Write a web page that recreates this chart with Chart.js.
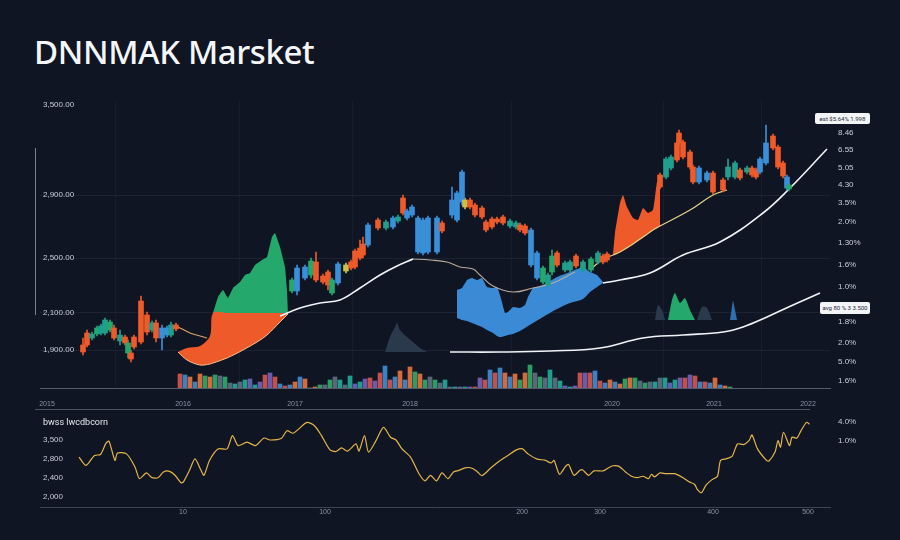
<!DOCTYPE html>
<html>
<head>
<meta charset="utf-8">
<title>DNNMAK Marsket</title>
<script src="https://cdn.jsdelivr.net/npm/chart.js@4.4.1/dist/chart.umd.min.js"></script>
<style>
  html, body { margin: 0; padding: 0; background: #0f1523; }
  body { width: 900px; height: 540px; position: relative; overflow: hidden; font-family: Roboto, "Noto Sans", sans-serif; }
  h1 { position: absolute; left: 34px; top: 35px; margin: 0; font-family: "Noto Sans", sans-serif; font-weight: 500; font-size: 33px; line-height: 33px; color: #f4f6fa; letter-spacing: -0.4px; }
  canvas { position: absolute; left: 0; }
  #mainChart { top: 85px; }
  #subChart { top: 405px; }
  .rule { position: absolute; background: #4a5263; }
  .tag { position: absolute; background: #f3f4f6; color: #1f2937; font-size: 6px; border-radius: 2px; text-align: center; }
  .panel-title { position: absolute; left: 43px; top: 417px; color: #e5e7eb; font-size: 9px; }
</style>
</head>
<body>
<h1>DNNMAK Marsket</h1>
<div class="rule" style="left:35px; top:148px; width:1px; height:167px; background:#7a8291;"></div>
<div class="rule" style="left:35px; top:409px; width:775px; height:1px;"></div>
<canvas id="mainChart" width="900" height="330"></canvas>
<canvas id="subChart" width="900" height="120"></canvas>
<div class="panel-title">bwss lwcdbcorn</div>
<div class="tag" style="left:815px; top:113px; width:55px; height:11px; line-height:11px;">est $5.64% 1.998</div>
<div class="tag" style="left:820px; top:302px; width:50px; height:12px; line-height:12px;">avg 80 % 3 3.500</div>

<script>
// ---- axis ticks ----
const leftTickValues = [141.5, 96.5, 65, 37.5, 19];
const leftTickLabels = ["3,500.00", "2,900.00", "2,500.00", "2,100.00", "1,900.00"];
const rightTickValues = [127.5, 119, 110, 101.5, 92.5, 83, 72.5, 61.5, 50.5, 33, 22.5, 13, 3.5];
const rightTickLabels = ["8.46", "6.55", "5.05", "4.30", "3.5%", "2.0%", "1.30%", "1.6%", "1.0%", "1.8%", "2.0%", "5.0%", "1.6%"];
const topXTicks = [1.4, 28.6, 51, 74, 114.4, 134.8, 153.6];
const topXLabels = ["2015", "2016", "2017", "2018", "2020", "2021", "2022"];

const subLeftValues = [34, 24.5, 14.5, 5];
const subLeftLabels = ["3,500", "2,800", "2,400", "2,000"];
const subRightValues = [43, 33.5];
const subRightLabels = ["4.0%", "1.0%"];
const subXTicks = [28.6, 57, 96.4, 112, 134.6, 153.6];
const subXLabels = ["10", "100", "200", "300", "400", "500"];

// ---- candles ----
const candleX = [8.6, 9.4, 10.4, 11.4, 12.2, 13, 14, 14.8, 16, 17, 17.6, 18.2, 18.8, 20.2, 21.4, 22.4, 23.2, 24.4, 25.4, 26.2, 27.2,
  50.4, 51.4, 53, 54.2, 55.2, 56.6, 57.6, 58.4, 59.6, 61.2, 62.2, 63, 64, 64.6, 65.6, 67.6, 69.2, 70.6, 71.6, 72.6, 73.4, 74.4, 75.6, 76.6, 77.6, 79.4, 80.4,
  82.4, 83.4, 84.4, 85, 86, 87, 88.4, 89.2, 90.4, 91.4, 92.6, 94, 95.2, 96, 97, 98.2, 99.4, 100.6, 101.6, 102.4, 103.4, 105, 106, 107.2, 108.6, 110.2, 111.6, 112.6, 113.4,
  124, 125.2, 126.2, 127.4, 127.8, 128.6, 130, 130.6, 131.8, 133.4, 134.6, 136.6, 137.6, 139, 140, 141.4, 142.4, 143.2, 144, 145.2, 146.6, 147.6, 148.6, 149.4, 149.8];
const bodyTop = [21.5, 27.5, 27, 30, 31, 34, 33, 30, 26.5, 25.5, 22.5, 17.5, 25.5, 43.5, 36.5, 32.5, 32.5, 30, 30, 31.5, 31.5,
  54, 60, 60.5, 63.5, 63, 56, 58, 54, 62, 61.5, 63, 68.5, 70, 72, 81.5, 84, 83, 85, 85.5, 95, 88.5, 90.5, 85, 84, 85, 85, 82.5,
  94, 97.5, 108, 94, 94, 91.5, 90, 83, 84.5, 84.5, 85.5, 83.5, 82.5, 81.5, 81, 79, 67.5, 60, 56.5, 66, 67.5, 62.5, 63, 66, 63, 64.5, 67.5, 66, 67,
  106.5, 114.5, 115.5, 122.5, 127.5, 123, 118, 110.5, 110, 107.5, 107.5, 104, 110.5, 112.5, 109, 110, 110, 109, 114.5, 122.5, 126, 120.5, 112.5, 105.5, 101.5];
const bodyBot = [18, 21.5, 25, 27, 27.5, 27.5, 29, 25, 23.5, 22.5, 17.5, 14.5, 20.5, 23, 28, 29, 25, 25, 26.5, 26.5, 29.5,
  48.5, 48.5, 55, 56.5, 54, 53, 51.5, 47.5, 52.5, 58.5, 60, 60.5, 65, 66.5, 71.5, 80, 80, 80.5, 83.5, 87.5, 85, 86.5, 68, 67.5, 68, 68, 78.5,
  86.5, 84, 93, 90.5, 90.5, 86.5, 85.5, 79, 80.5, 83, 82.5, 81, 80.5, 79, 77.5, 61.5, 55, 53, 51.5, 58, 61.5, 59, 59, 61, 59, 59, 63, 63, 64,
  100.5, 105.5, 110, 114, 122.5, 115.5, 110.5, 103, 103, 104, 98, 99, 105.5, 105.5, 105, 108, 106.5, 105.5, 108, 112.5, 120, 110.5, 106, 100, 99.5];
const wickTop = [25, 29, 28, 31, 32, 35, 34, 31.5, 29, 26.5, 24, 19, 26.5, 46, 38, 33.5, 34, 31.5, 31, 33, 32.5,
  55, 61.5, 61.5, 65, 68, 57, 59, 55, 63, 62.5, 64, 69.5, 74, 75.5, 82.5, 85, 84, 86, 86.5, 96.5, 89.5, 91.5, 86, 85, 86, 86, 83.5,
  100.5, 98.5, 109, 95, 95, 92.5, 91, 84, 85.5, 85.5, 86.5, 84.5, 83.5, 82.5, 82, 80, 68.5, 61, 57.5, 69, 68.5, 63.5, 64, 67, 64, 65.5, 68.5, 67, 68,
  107.5, 115.5, 116.5, 123.5, 129, 124, 119, 111.5, 111, 108.5, 108.5, 105, 114.5, 113.5, 110, 111, 111, 110, 115.5, 131.5, 127, 121.5, 113.5, 106.5, 102.5];
const wickBot = [16.5, 20.5, 24, 26, 26.5, 26.5, 28, 24, 21.5, 21.5, 15, 13, 19.5, 22, 26.5, 28, 23, 19, 25.5, 25.5, 28.5,
  47.5, 46.5, 54, 55, 53, 52, 49, 46.5, 51.5, 57.5, 59, 59.5, 64, 65, 70.5, 79, 79, 79.5, 82.5, 86.5, 84, 85.5, 67, 66.5, 67, 67, 77.5,
  85, 83, 91.5, 89.5, 89.5, 85.5, 84.5, 78, 79.5, 82, 81.5, 80, 79.5, 78, 76.5, 60.5, 54, 52, 50.5, 56.5, 60.5, 58, 58, 60, 58, 58, 62, 62, 63,
  99.5, 104.5, 109, 113, 121.5, 114.5, 109.5, 102, 102, 103, 97, 98, 104, 104.5, 104, 107, 105.5, 104.5, 107, 111.5, 119, 109.5, 105, 99, 98.5];
// o = orange, g = green, t = teal, b = blue, y = yellow
const candleKind = ("ootgttgoto gooootobbt o" + "gbbgooogb yoooobotbt obbbbbbobb byooooooot toobbgtgot totgtooo" +
  "tt ooooobboot totoobbooo bg").replace(/ /g, "").split("");

// ---- volume (starts at x = 28, one bar per step) ----
const volStart = 28;
const volume = [14, 13, 11, 6, 14, 12, 11, 13, 12, 11, 5, 4, 6, 8, 9, 3, 6, 13, 15, 11, 4, 2, 3, 6, 11, 9,
  0, 1, 3, 3, 8, 11, 8, 3, 12, 4, 6, 9,
  10, 7, 15, 22, 8, 11, 17, 8, 21, 16, 14, 8, 11, 8, 5, 8,
  1, 1, 1, 1, 1, 1,
  10, 8, 18, 15, 20, 15, 11, 14, 8, 15, 23, 15, 11, 10, 18, 10, 7,
  2, 1, 2,
  15, 15, 15, 17, 7, 5, 8, 6, 4,
  9, 10, 10, 7, 5, 6, 6, 10, 10, 5, 8, 10, 10, 13, 12, 6, 6, 5, 10, 3, 2, 1];

// ---- filled areas ----
const orangeLX = [27.6, 29.4, 32, 34, 34.6, 37.4, 40.6, 43.4, 45.4, 48, 49.6];
const orangeLTop = [18, 20, 21, 26, 37.5, 37.5, 37.5, 37.5, 37.5, 37.5, 37.5];
const orangeLBot = [18, 14, 11.5, 12, 12.5, 15, 19, 23, 26.5, 33, 37];

const greenX = [34.6, 35.6, 36.6, 37.6, 38.6, 40, 41, 42, 43, 44.4, 45.4, 46.4, 47, 48, 49, 49.4, 49.6];
const greenTop = [37.5, 45.5, 49, 45, 50, 53, 56.5, 57.5, 61.5, 64, 65.5, 75.5, 77.5, 70.5, 60.5, 49, 37.5];

const orangeRX = [114.6, 115, 116, 116.6, 117.4, 118.6, 119.6, 120.6, 121.6, 122.6, 123, 123.4, 124];
const orangeRTop = [66.5, 77.5, 92.5, 96.5, 90.5, 85, 84, 90, 87.5, 89, 95.5, 103, 104];
const orangeRBot = [66.5, 67, 68, 69, 70, 72, 73.5, 75.5, 77.5, 79, 79.5, 80, 81];

const blueX = [83.4, 84.4, 85.4, 86.4, 87.4, 88.4, 89.4, 90.6, 91.4, 92, 93, 93.6, 94.6, 96, 97, 97.6, 98.6, 100.6, 103.4, 106, 108.6, 110, 111.4, 112.6];
const blueTop = [49, 50, 54, 55, 54, 55, 50.5, 50, 50.5, 46.5, 37.5, 38, 40.5, 40, 41.5, 45.5, 50, 51.5, 55.5, 58, 60.5, 58, 56.5, 53];
const blueBot = [35, 34, 33.5, 32.5, 31.5, 30.5, 29, 27.5, 26, 25.5, 26, 26.5, 27, 28.5, 30, 31, 32.5, 35.5, 39.5, 42.5, 44.5, 48, 50.5, 52.5];

const hillMidX = [69, 70, 71, 71.4, 72, 73.4, 74.6, 76, 77.4];
const hillMidY = [18, 25.5, 30.5, 32.5, 29, 25.5, 23, 20, 18];
const hillAX = [123, 123.6, 124.4, 125];
const hillAY = [34, 41.5, 39, 34];
const hillGX = [125.6, 126.4, 127, 128, 129, 130, 131];
const hillGY = [34, 44, 47.5, 42.5, 45, 39, 34];
const hillBX = [131.4, 132.4, 133.4, 134.4];
const hillBY = [34, 40.5, 40, 34];
const spikeX = [138, 138.6, 139.4];
const spikeY = [34, 44, 34];

// ---- moving averages ----
const tanX = [26.4, 28, 30, 32, 33.4];
const tanY = [31.5, 30, 27.5, 26, 25];
const ma1X = [48, 52, 56, 60, 64, 68, 71.4, 74.6];
const ma1Y = [36, 40, 42.5, 44, 50, 56.5, 61, 64.5];
const ma1bX = [74.6, 78, 81.4, 84, 86.6, 88, 90.6, 94.6, 98.6, 102.6, 107];
const ma1bY = [64.5, 64, 63, 60.5, 59.5, 56.5, 51, 48, 50, 52.5, 58];
const ma1cX = [110, 112.6, 114.6, 116, 118.6, 120.6, 122.6, 124, 130, 134.6, 137.4];
const ma1cY = [59, 64.5, 66.5, 68, 72, 75.5, 79, 81, 89, 96.5, 99];
const ma2X = [82, 92, 102, 112, 120.6, 128.6, 136.6, 140.6, 145.4, 150.6, 156];
const ma2Y = [18, 18, 18.5, 20, 25, 26.5, 28, 30.5, 35.5, 41.5, 47.5];
const ma3X = [112.6, 116, 122, 128.6, 136, 144.6, 150, 157.4];
const ma3Y = [52.5, 54, 57.5, 66.5, 73, 87.5, 100, 119.5];

// ---- lower panel line ----
const subX = [7.8, 9.2, 10.9, 12.1, 13.2, 13.8, 15, 15.5, 17.3, 19, 19.9, 21.3, 22.4, 23.6, 24.7, 25.9, 27, 28.2, 28.7, 29.9,
  31, 32.2, 32.8, 33.9, 35.6, 37.4, 38.5, 39.6, 41.4, 43.1, 44.8, 46, 48.3, 49.4, 50.6, 51.7, 53.4, 54.9, 56.3, 58,
  59.2, 60.3, 61.5, 63.2, 63.8, 64.9, 65.7, 67.2, 68.7, 70.1, 71.2, 72.4, 74.1, 75.8, 77, 78.1, 79.3, 80.4, 81.6, 82.7,
  83.8, 85, 86.1, 87.3, 88.4, 90.2, 91.9, 93.6, 95.3, 96.5, 97.6, 99.3, 101.1, 102.2, 102.8, 103.9, 105.1, 105.7, 106.8, 108,
  108.5, 109.7, 110.8, 112.6, 113.7, 114.6, 115.8, 117.1, 118.3, 119.4, 120.6, 121.7, 122.3, 122.9, 124, 125.2, 126.9, 128.6, 129.8, 130.9,
  131.5, 132.3, 133.2, 134.4, 135.5, 136.1, 137.2, 138.4, 139.5, 140.7, 141.8, 142.4, 143.5, 145.3, 145.8, 147, 147.6, 148.1, 148.7, 149.9,
  150.4, 151.4, 152.2, 153.3, 153.9];
const subY = [25.2, 21, 26, 26.5, 32.2, 33.2, 23.5, 27.2, 26.8, 20.2, 14.3, 17.2, 14.8, 14.8, 17.7, 18, 16, 12.2, 12.7, 18.5,
  24.3, 18.5, 16, 23.5, 29.3, 29.3, 36, 31, 32.7, 31, 34.8, 33.8, 34.7, 38.5, 37.2, 39.3, 42.7, 41, 36, 28.8,
  28, 29.8, 28.2, 31.8, 28.2, 36, 27.7, 33.5, 40.2, 35.2, 33.8, 29.3, 25.2, 16.8, 13.2, 16, 13.2, 17.2, 14.3, 17.7,
  18.5, 19.7, 19.8, 18.2, 15.8, 19.8, 23.2, 26, 28.8, 29.3, 26.8, 24.3, 23.5, 22.2, 23.5, 16.5, 20.5, 21.5, 16, 18.5,
  18.8, 16, 18.2, 18.2, 19.8, 20.8, 20.5, 17.7, 15.5, 14.8, 15.5, 14.3, 16.5, 15.2, 17.2, 16.8, 16.8, 14.8, 12.7, 11.5,
  8.8, 7.2, 11, 13.8, 15.5, 23.5, 24.3, 25.5, 31.8, 31.5, 33.5, 36.3, 29.3, 23.5, 23.2, 27.7, 33.5, 30.2, 37.7, 31,
  35.2, 34.8, 38.5, 42.7, 41.8];

// ---- colours ----
const candleColors = { o: "#ef5a2a", g: "#25a86b", t: "#1f9f8c", b: "#3a8fd9", y: "#c9c24a" };
const volPalette = ["#c4504a", "#1f9e8e", "#2d9d63", "#3b82c4", "#6a5bb0", "#5b6678", "#d66a3a"];
const tickColor = "#c9ced8";

const pts = (xs, ys) => xs.map((x, i) => ({ x: x, y: ys[i] }));

function areaSet(xs, ys, color, fill, order, tension) {
    return {
        type: "line", data: pts(xs, ys), borderWidth: 0, borderColor: color,
        backgroundColor: color, fill: fill, pointRadius: 0, tension: tension, order: order
    };
}
function lineSet(xs, ys, color, width, order) {
    return {
        type: "line", data: pts(xs, ys), borderColor: color, borderWidth: width,
        fill: false, pointRadius: 0, tension: 0.4, order: order
    };
}
function fixedTicks(values) {
    return scale => { scale.ticks = values.map(v => ({ value: v })); };
}

const candleFill = candleKind.map(k => candleColors[k]);

new Chart(document.getElementById("mainChart").getContext("2d"), {
    type: "bar",
    data: {
        datasets: [
            // background hills
            areaSet(hillMidX, hillMidY, "#2a3a4c", { value: 18 }, 6, 0.3),
            areaSet(hillAX, hillAY, "#2a3a4c", { value: 34 }, 6, 0.3),
            areaSet(hillGX, hillGY, "#25a86b", { value: 34 }, 6, 0.2),
            areaSet(hillBX, hillBY, "#2a3a4c", { value: 34 }, 6, 0.3),
            areaSet(spikeX, spikeY, "#2f6fb0", { value: 34 }, 6, 0),
            // filled areas
            { type: "line", data: pts(orangeLX, orangeLBot), borderColor: "#f4c08f", borderWidth: 1, fill: false, pointRadius: 0, tension: 0.35, order: 5 },
            areaSet(orangeLX, orangeLTop, "#ef5a2a", "-1", 5, 0.3),
            areaSet(greenX, greenTop, "#24a86b", { value: 37.5 }, 5, 0.1),
            { type: "line", data: pts(orangeRX, orangeRBot), borderWidth: 0, borderColor: "#ef5a2a", fill: false, pointRadius: 0, tension: 0.2, order: 5 },
            areaSet(orangeRX, orangeRTop, "#ef5a2a", "-1", 5, 0.1),
            { type: "line", data: pts(blueX, blueBot), borderWidth: 0, borderColor: "#3a8ad6", fill: false, pointRadius: 0, tension: 0.3, order: 5 },
            areaSet(blueX, blueTop, "#3a8ad6", "-1", 5, 0.1),
            // volume
            {
                type: "bar", yAxisID: "vol", grouped: false, barThickness: 4, order: 4,
                data: volume.map((v, i) => ({ x: volStart + i, y: v })),
                backgroundColor: volume.map((v, i) => volPalette[(i * 3 + Math.floor(i / 3)) % volPalette.length])
            },
            // moving averages
            lineSet(tanX, tanY, "#d8a56b", 1.2, 3),
            lineSet(ma1X, ma1Y, "#f1f3f6", 1.6, 3),
            lineSet(ma1bX, ma1bY, "#b9aa9c", 1.1, 3),
            lineSet(ma1cX, ma1cY, "#e9d48a", 1.2, 3),
            lineSet(ma2X, ma2Y, "#f1f3f6", 1.6, 3),
            lineSet(ma3X, ma3Y, "#f1f3f6", 1.6, 3),
            // candles: wicks then bodies
            {
                type: "bar", grouped: false, barThickness: 1, order: 1,
                data: candleX.map((x, i) => ({ x: x, y: [wickBot[i], wickTop[i]] })),
                backgroundColor: candleFill
            },
            {
                type: "bar", grouped: false, barThickness: 5, order: 0,
                data: candleX.map((x, i) => ({ x: x, y: [bodyBot[i], bodyTop[i]] })),
                backgroundColor: candleFill
            }
        ]
    },
    options: {
        responsive: false,
        animation: false,
        layout: { padding: { top: 15 } },
        plugins: { legend: { display: false }, tooltip: { enabled: false } },
        scales: {
            x: {
                type: "linear", min: 0, max: 158, offset: false,
                afterBuildTicks: fixedTicks(topXTicks),
                afterFit: s => { s.height = 27; },
                ticks: { color: "#8b93a3", font: { size: 7 }, padding: 12, maxRotation: 0, autoSkip: false, callback: (v, i) => topXLabels[i] },
                grid: { color: "#161e2d", drawTicks: false },
                border: { color: "#545c6c" }
            },
            y: {
                position: "left", min: 0, max: 144,
                afterBuildTicks: fixedTicks(leftTickValues),
                afterFit: s => { s.width = 40; },
                ticks: { mirror: true, padding: 3, color: tickColor, font: { size: 8 }, callback: (v, i) => leftTickLabels[i] },
                grid: { color: ctx => (ctx.index === 0 ? "rgba(0,0,0,0)" : "#1b2333"), drawTicks: false },
                border: { display: false }
            },
            y2: {
                position: "right", min: 0, max: 144,
                afterBuildTicks: fixedTicks(rightTickValues),
                afterFit: s => { s.width = 70; },
                ticks: { padding: 8, color: tickColor, font: { size: 8 }, callback: (v, i) => rightTickLabels[i] },
                grid: { display: false, drawTicks: false },
                border: { display: false }
            },
            vol: { display: false, min: 0, max: 288 }
        }
    }
});

new Chart(document.getElementById("subChart").getContext("2d"), {
    type: "line",
    data: {
        datasets: [{
            data: pts(subX, subY), borderColor: "#e6b54a", borderWidth: 1.2,
            pointRadius: 0, tension: 0.25, fill: false
        }]
    },
    options: {
        responsive: false,
        animation: false,
        layout: { padding: { top: 12 } },
        plugins: { legend: { display: false }, tooltip: { enabled: false } },
        scales: {
            x: {
                type: "linear", min: 0, max: 158,
                afterBuildTicks: fixedTicks(subXTicks),
                afterFit: s => { s.height = 18; },
                ticks: { color: "#8b93a3", font: { size: 7 }, padding: 1, maxRotation: 0, autoSkip: false, callback: (v, i) => subXLabels[i] },
                grid: { display: false, drawTicks: false },
                border: { color: "#3d4554" }
            },
            y: {
                position: "left", min: 0, max: 45,
                afterBuildTicks: fixedTicks(subLeftValues),
                afterFit: s => { s.width = 40; },
                ticks: { mirror: true, padding: 3, color: tickColor, font: { size: 8 }, callback: (v, i) => subLeftLabels[i] },
                grid: { display: false, drawTicks: false },
                border: { display: false }
            },
            y2: {
                position: "right", min: 0, max: 45,
                afterBuildTicks: fixedTicks(subRightValues),
                afterFit: s => { s.width = 70; },
                ticks: { padding: 8, color: tickColor, font: { size: 8 }, callback: (v, i) => subRightLabels[i] },
                grid: { display: false, drawTicks: false },
                border: { display: false }
            }
        }
    }
});
</script>
</body>
</html>
